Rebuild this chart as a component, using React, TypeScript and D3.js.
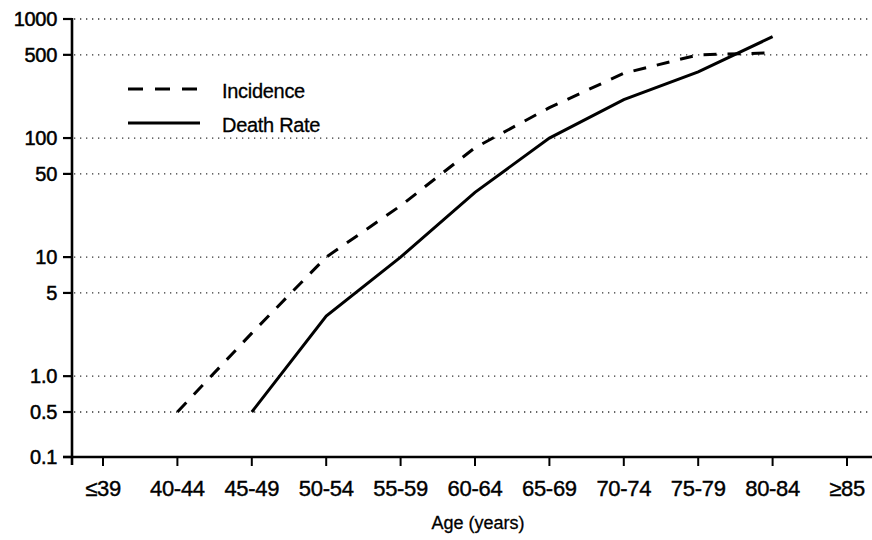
import React, { useEffect, useRef } from "react";
import * as d3 from "d3";

const ageGroups = ["≤39", "40-44", "45-49", "50-54", "55-59", "60-64", "65-69", "70-74", "75-79", "80-84", "≥85"];
const incidence: (number | null)[] = [null, 0.5, 2.3, 10, 27, 83, 180, 350, 500, 520, null];
const deathRate: (number | null)[] = [null, null, 0.5, 3.2, 10, 35, 100, 210, 360, 710, null];
const yTicks = [0.1, 0.5, 1, 5, 10, 50, 100, 500, 1000];
const yTickLabels = ["0.1", "0.5", "1.0", "5", "10", "50", "100", "500", "1000"];

const W = 872;
const H = 540;
const font = "'Liberation Sans', Arial, sans-serif";

export default function App() {
    const ref = useRef<SVGSVGElement>(null);

    useEffect(() => {
        const svg = d3.select(ref.current);
        svg.selectAll("*").remove();

        const left = 72;
        const right = 872;
        const bottom = 457;

        // the axis is broken below 0.5, so 0.1 sits closer than a log decade would
        const y = d3.scaleLog().domain([0.1, 0.5, 1000]).range([bottom, 412, 19]);
        const x = d3.scalePoint<string>().domain(ageGroups).range([103, 847]);

        // dotted grid
        svg.append("g")
            .selectAll("line")
            .data(yTicks.slice(1))
            .enter()
            .append("line")
            .attr("x1", left + 2)
            .attr("x2", right - 2)
            .attr("y1", (d) => y(d))
            .attr("y2", (d) => y(d))
            .attr("stroke", "#333")
            .attr("stroke-width", 1.3)
            .attr("stroke-dasharray", "1.3,4.7");

        // y axis
        svg.append("line")
            .attr("x1", left).attr("x2", left)
            .attr("y1", y(1000) - 1).attr("y2", bottom + 8)
            .attr("stroke", "#000").attr("stroke-width", 2.6);
        const yt = svg.append("g").selectAll("g").data(yTicks).enter().append("g");
        yt.append("line")
            .attr("x1", left - 9).attr("x2", left)
            .attr("y1", (d) => y(d)).attr("y2", (d) => y(d))
            .attr("stroke", "#000").attr("stroke-width", 2.2);
        yt.append("text")
            .attr("x", left - 15)
            .attr("y", (d) => y(d))
            .attr("dy", "0.36em")
            .attr("text-anchor", "end")
            .attr("font-family", font)
            .attr("font-size", 20)
            .attr("letter-spacing", -0.3)
            .attr("stroke", "#000")
            .attr("stroke-width", 0.5)
            .text((d, i) => yTickLabels[i]);

        // x axis
        svg.append("line")
            .attr("x1", left - 9).attr("x2", right)
            .attr("y1", bottom).attr("y2", bottom)
            .attr("stroke", "#000").attr("stroke-width", 2.6);
        const xt = svg.append("g").selectAll("g").data(ageGroups).enter().append("g");
        xt.append("line")
            .attr("x1", (d) => x(d)!).attr("x2", (d) => x(d)!)
            .attr("y1", bottom).attr("y2", bottom + 9)
            .attr("stroke", "#000").attr("stroke-width", 2);
        xt.append("text")
            .attr("x", (d) => x(d)!)
            .attr("y", 496)
            .attr("text-anchor", "middle")
            .attr("font-family", font)
            .attr("font-size", 22)
            .attr("letter-spacing", -0.3)
            .attr("stroke", "#000")
            .attr("stroke-width", 0.4)
            .text((d) => d);

        svg.append("text")
            .attr("x", 478)
            .attr("y", 529)
            .attr("text-anchor", "middle")
            .attr("font-family", font)
            .attr("font-size", 18)
            .attr("stroke", "#000")
            .attr("stroke-width", 0.3)
            .text("Age (years)");

        const line = d3.line<number | null>()
            .defined((d) => d != null)
            .x((d, i) => x(ageGroups[i])!)
            .y((d) => y(d as number));

        svg.append("path")
            .attr("d", line(incidence))
            .attr("fill", "none")
            .attr("stroke", "#000")
            .attr("stroke-width", 3)
            .attr("stroke-dasharray", "13,11");
        svg.append("path")
            .attr("d", line(deathRate))
            .attr("fill", "none")
            .attr("stroke", "#000")
            .attr("stroke-width", 3);

        // legend
        const legend = [
            { label: "Incidence", dash: "15,12", yy: 89 },
            { label: "Death Rate", dash: null, yy: 123 },
        ];
        const lg = svg.append("g").selectAll("g").data(legend).enter().append("g");
        lg.append("line")
            .attr("x1", 128).attr("x2", 200)
            .attr("y1", (d) => d.yy).attr("y2", (d) => d.yy)
            .attr("stroke", "#000").attr("stroke-width", 3)
            .attr("stroke-dasharray", (d) => d.dash);
        lg.append("text")
            .attr("x", 222)
            .attr("y", (d) => d.yy + 9)
            .attr("font-family", font)
            .attr("font-size", 20)
            .attr("letter-spacing", -0.3)
            .attr("stroke", "#000")
            .attr("stroke-width", 0.3)
            .text((d) => d.label);
    }, []);

    return (
        <svg
            ref={ref}
            width={W}
            height={H}
            style={{ position: "absolute", left: 0, top: 0, background: "#fff" }}
        />
    );
}
